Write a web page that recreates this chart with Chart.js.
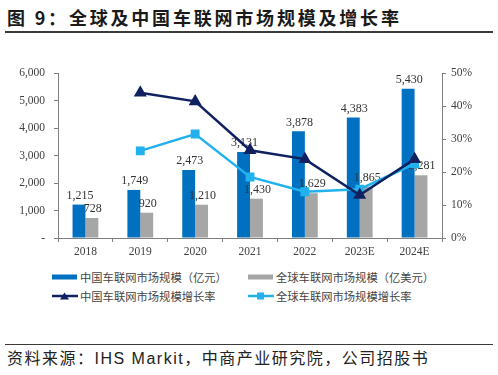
<!DOCTYPE html>
<html><head><meta charset="utf-8">
<script src="https://cdn.jsdelivr.net/npm/chart.js@4/dist/chart.umd.min.js"></script>
<style>
html,body{margin:0;padding:0;background:#fff;width:498px;height:375px;overflow:hidden;position:relative;font-family:"Liberation Sans","Noto Sans CJK SC",sans-serif;}
#title{position:absolute;left:7px;top:5px;font-size:18px;font-weight:bold;letter-spacing:2.8px;color:#1a1a1a;font-family:"Noto Sans CJK SC",sans-serif;line-height:24px;white-space:nowrap;}
.rule{position:absolute;left:5px;width:488px;height:1.5px;background:#3a3a3a;}
#wrap{position:absolute;left:0;top:40px;width:498px;height:225px;}
.leg{position:absolute;font-size:11.3px;color:#444;line-height:14px;white-space:nowrap;font-family:"Noto Sans CJK SC",sans-serif;}
.sw{position:absolute;}
#src{position:absolute;left:7px;top:348px;font-size:16px;letter-spacing:1.5px;color:#222;line-height:22px;white-space:nowrap;}
</style></head>
<body>
<div id="title">图 9：全球及中国车联网市场规模及增长率</div>
<div class="rule" style="top:31px"></div>
<div id="wrap"><canvas id="c" width="498" height="225"></canvas></div>
<div id="legend"></div>
<div class="rule" style="top:343.5px"></div>
<div id="src">资料来源：IHS Markit，中商产业研究院，公司招股书</div>
<script>
const categories = ['2018','2019','2020','2021','2022','2023E','2024E'];
const chinaMarket = [1215,1749,2473,3131,3878,4383,5430];
const globalMarket = [728,920,1210,1430,1629,1865,2281];
const chinaGrowth = [null,44.0,41.4,26.6,23.9,13.0,23.9];
const globalGrowth = [null,26.4,31.5,18.5,14.0,14.8,22.5];
const seriesNames = ['中国车联网市场规模（亿元）','全球车联网市场规模（亿美元）','中国车联网市场规模增长率','全球车联网市场规模增长率'];
const colors = ['#0070c0','#a6a6a6','#0f2161','#21b1ec'];

const serif = "'Liberation Serif','Times New Roman',serif";
const axisColor = '#7f7f7f';

// draw value labels for both bar series after the last bar series is painted (before lines)
const barLabels = {
  id:'barLabels',
  afterDatasetDraw(chart, args){
    if (args.index !== 0) return;
    const ctx = chart.ctx;
    ctx.save();
    ctx.font = '12px ' + serif;
    ctx.fillStyle = '#333';
    ctx.textAlign = 'center';
    ctx.textBaseline = 'bottom';
    [0,1].forEach(i => {
      const meta = chart.getDatasetMeta(i);
      const data = chart.data.datasets[i].data;
      meta.data.forEach((el, k) => {
        ctx.fillText(data[k].toLocaleString('en-US'), el.x + 1, el.y - 3);
      });
    });
    ctx.restore();
  }
};

new Chart(document.getElementById('c'), {
  type:'bar',
  data:{
    labels:categories,
    datasets:[
      {type:'bar',label:seriesNames[0],data:chinaMarket,backgroundColor:colors[0],yAxisID:'y',order:2,categoryPercentage:0.47,barPercentage:1},
      {type:'bar',label:seriesNames[1],data:globalMarket,backgroundColor:colors[1],yAxisID:'y',order:2,categoryPercentage:0.47,barPercentage:1},
      {type:'line',label:seriesNames[2],data:chinaGrowth,borderColor:colors[2],backgroundColor:colors[2],borderWidth:2.5,pointStyle:'triangle',pointRadius:5,yAxisID:'y1',order:1,tension:0},
      {type:'line',label:seriesNames[3],data:globalGrowth,borderColor:colors[3],backgroundColor:colors[3],borderWidth:2.5,pointStyle:'rect',pointRadius:4.5,yAxisID:'y1',order:1,tension:0}
    ]
  },
  options:{
    responsive:false,animation:false,devicePixelRatio:1,
    layout:{padding:{top:33,left:0,right:0,bottom:0}},
    plugins:{legend:{display:false},tooltip:{enabled:false},title:{display:false}},
    scales:{
      x:{offset:true,
        grid:{offset:true,drawOnChartArea:false,drawTicks:true,tickLength:4,color:axisColor},
        border:{display:true,color:axisColor},
        ticks:{font:{family:serif,size:11.5},color:'#404040',padding:3,maxRotation:0},
        afterFit(s){s.height=27;}
      },
      y:{position:'left',min:0,max:6000,
        grid:{drawOnChartArea:false,drawTicks:true,tickLength:4,color:axisColor},
        border:{display:true,color:axisColor},
        ticks:{stepSize:1000,font:{family:serif,size:11.5},color:'#404040',padding:9,
          callback:v=>v===0?'-':v.toLocaleString('en-US')},
        afterFit(s){s.width=58;}
      },
      y1:{position:'right',min:0,max:50,
        grid:{drawOnChartArea:false,drawTicks:true,tickLength:4,color:axisColor},
        border:{display:true,color:axisColor},
        ticks:{stepSize:10,font:{family:serif,size:11.5},color:'#404040',padding:5,
          callback:v=>v+'%'},
        afterFit(s){s.width=56;}
      }
    }
  },
  plugins:[barLabels]
});

// legend
const legendPos = [[52,277],[248,277],[52,296],[248,296]];
const legendKind = ['bar','bar','tri','sq'];
const lg = document.getElementById('legend');
seriesNames.forEach((name,i)=>{
  const [x,y] = legendPos[i];
  let sw;
  if (legendKind[i]==='bar'){
    sw = `<svg class="sw" style="left:${x}px;top:${y-3}px" width="25" height="6"><rect x="0" y="0.5" width="25" height="5" fill="${colors[i]}"/></svg>`;
  } else {
    const mk = legendKind[i]==='tri'
      ? `<polygon points="12.5,1.5 17,8.5 8,8.5" fill="${colors[i]}"/>`
      : `<rect x="9" y="1.5" width="7" height="7" fill="${colors[i]}"/>`;
    sw = `<svg class="sw" style="left:${x}px;top:${y-5}px" width="26" height="10"><line x1="0" y1="5" x2="26" y2="5" stroke="${colors[i]}" stroke-width="2.5"/>${mk}</svg>`;
  }
  lg.insertAdjacentHTML('beforeend', sw + `<div class="leg" style="left:${x+28}px;top:${y-7}px">${name}</div>`);
});
</script>
</body></html>
